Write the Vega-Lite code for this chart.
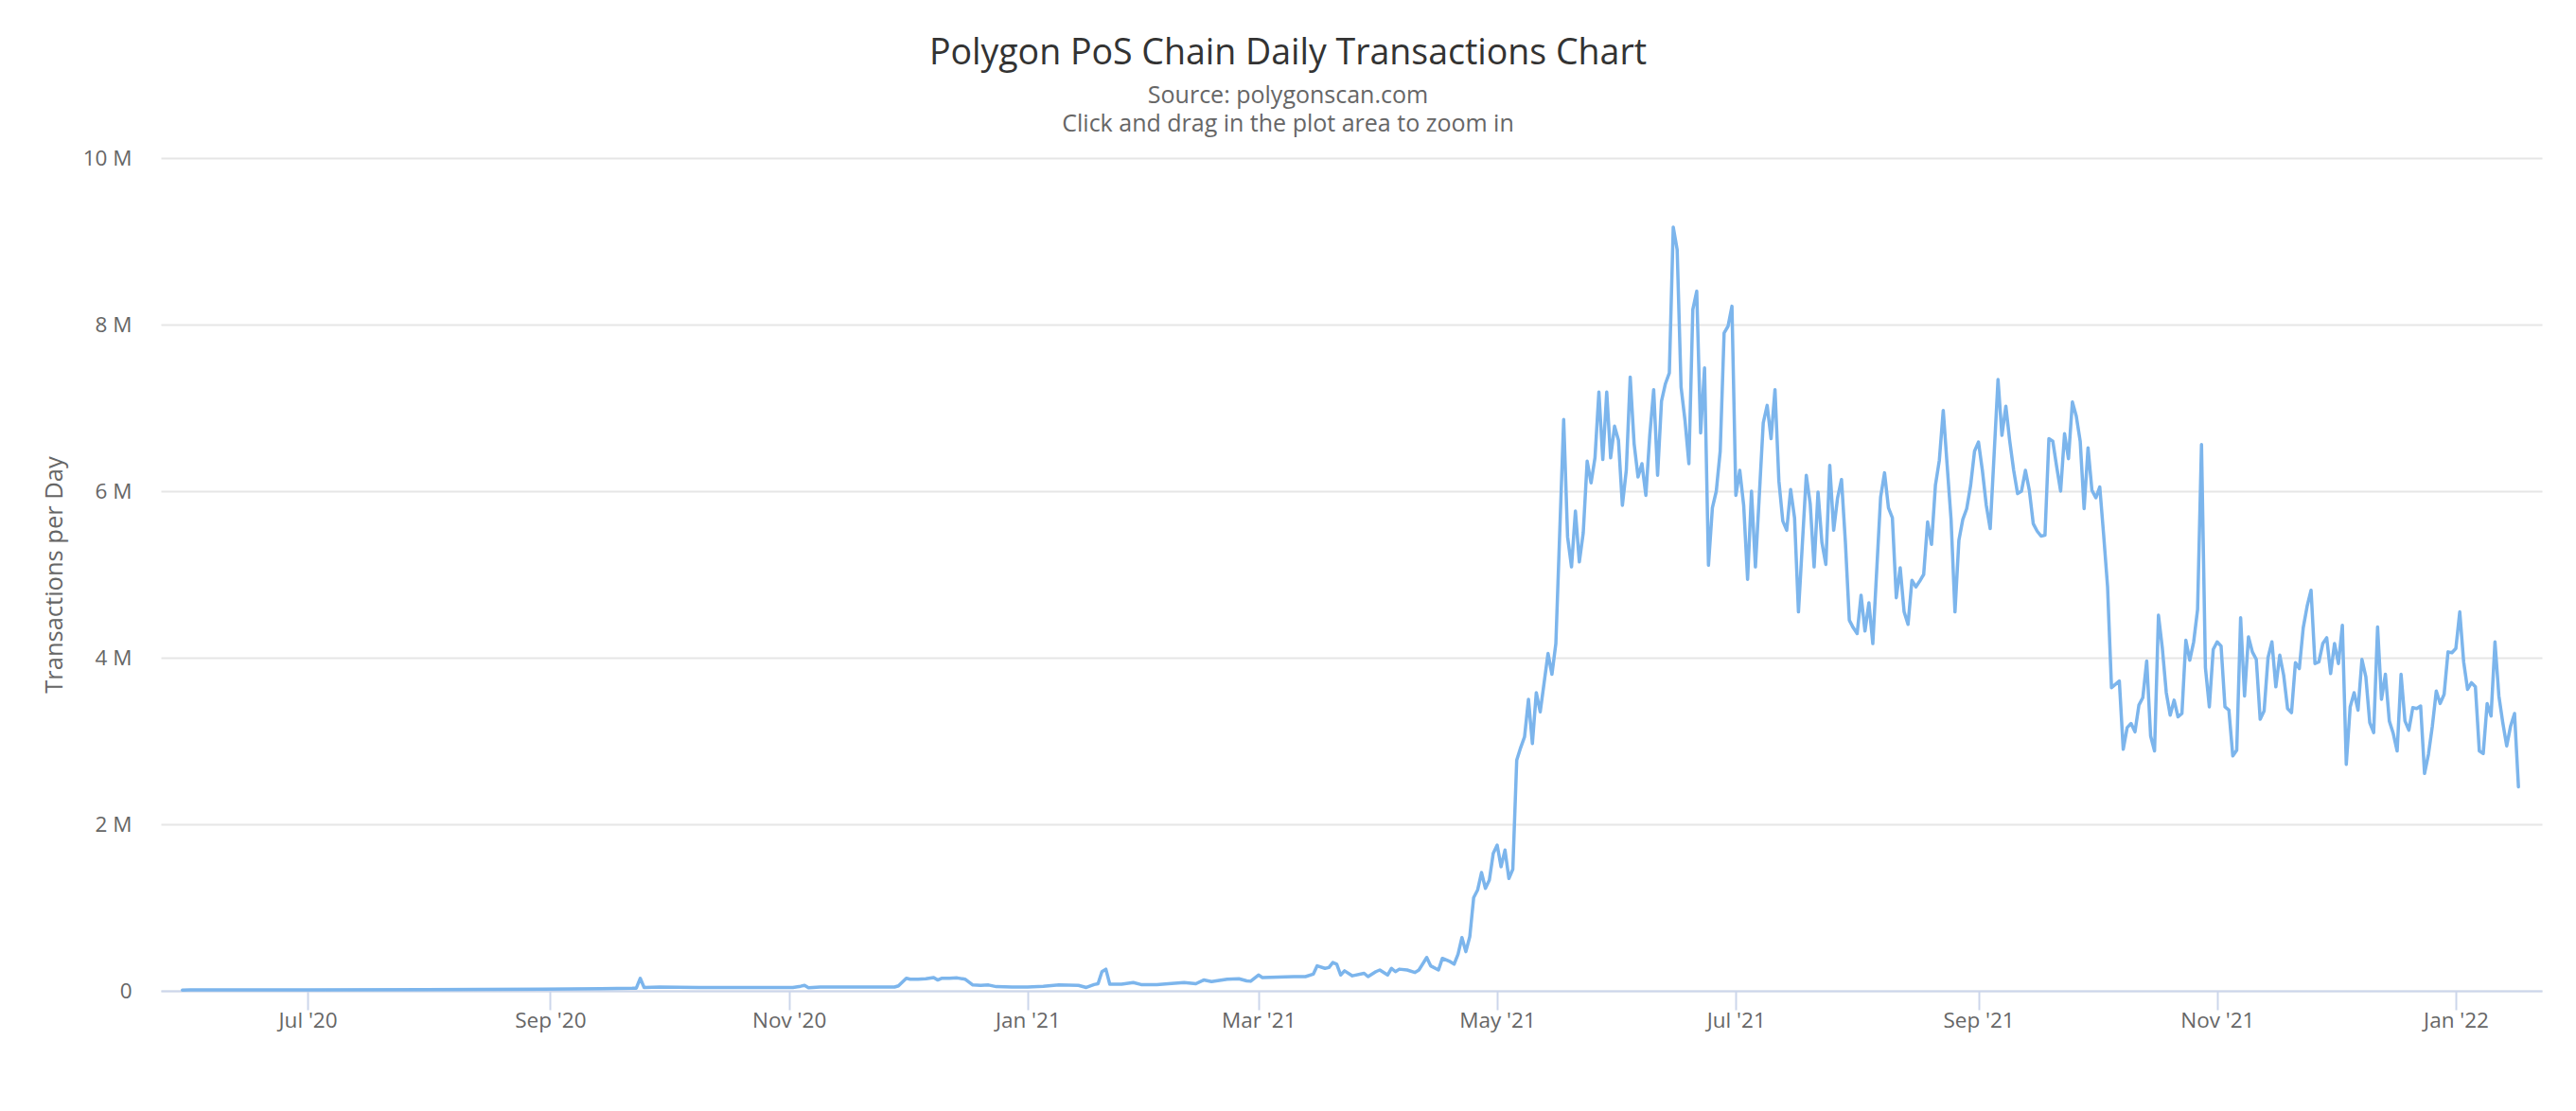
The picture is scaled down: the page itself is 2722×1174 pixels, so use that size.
{
  "$schema": "https://vega.github.io/schema/vega-lite/v6.json",
  "autosize": "none",
  "width": 2516,
  "height": 880,
  "padding": {"left": 170, "top": 167, "right": 36, "bottom": 127},
  "background": "#ffffff",
  "title": {
    "text": "Polygon PoS Chain Daily Transactions Chart",
    "subtitle": ["Source: polygonscan.com", "Click and drag in the plot area to zoom in"],
    "anchor": "middle",
    "dx": -67,
    "offset": 12,
    "font": "Open Sans",
    "fontSize": 37.5,
    "fontWeight": "normal",
    "color": "#333333",
    "subtitleFont": "Open Sans",
    "subtitleFontSize": 25,
    "subtitleColor": "#666666",
    "subtitlePadding": 14,
    "subtitleLineHeight": 30
  },
  "data": {
    "values": [
      {"date": "2020-05-30", "tx": 8000},
      {"date": "2020-06-01", "tx": 10000},
      {"date": "2020-06-11", "tx": 10000},
      {"date": "2020-07-01", "tx": 12000},
      {"date": "2020-07-31", "tx": 15000},
      {"date": "2020-08-15", "tx": 18000},
      {"date": "2020-08-30", "tx": 20000},
      {"date": "2020-09-14", "tx": 25000},
      {"date": "2020-09-22", "tx": 30000},
      {"date": "2020-09-23", "tx": 32000},
      {"date": "2020-09-24", "tx": 150000},
      {"date": "2020-09-25", "tx": 40000},
      {"date": "2020-09-29", "tx": 45000},
      {"date": "2020-10-09", "tx": 40000},
      {"date": "2020-10-19", "tx": 40000},
      {"date": "2020-11-02", "tx": 40000},
      {"date": "2020-11-04", "tx": 55000},
      {"date": "2020-11-05", "tx": 65000},
      {"date": "2020-11-06", "tx": 38000},
      {"date": "2020-11-09", "tx": 45000},
      {"date": "2020-11-18", "tx": 45000},
      {"date": "2020-11-28", "tx": 45000},
      {"date": "2020-11-29", "tx": 60000},
      {"date": "2020-12-01", "tx": 150000},
      {"date": "2020-12-02", "tx": 140000},
      {"date": "2020-12-04", "tx": 140000},
      {"date": "2020-12-06", "tx": 145000},
      {"date": "2020-12-08", "tx": 160000},
      {"date": "2020-12-09", "tx": 130000},
      {"date": "2020-12-10", "tx": 150000},
      {"date": "2020-12-12", "tx": 150000},
      {"date": "2020-12-14", "tx": 155000},
      {"date": "2020-12-16", "tx": 140000},
      {"date": "2020-12-18", "tx": 70000},
      {"date": "2020-12-20", "tx": 65000},
      {"date": "2020-12-22", "tx": 70000},
      {"date": "2020-12-24", "tx": 50000},
      {"date": "2020-12-28", "tx": 45000},
      {"date": "2021-01-01", "tx": 45000},
      {"date": "2021-01-05", "tx": 55000},
      {"date": "2021-01-09", "tx": 70000},
      {"date": "2021-01-14", "tx": 65000},
      {"date": "2021-01-16", "tx": 40000},
      {"date": "2021-01-18", "tx": 75000},
      {"date": "2021-01-19", "tx": 85000},
      {"date": "2021-01-20", "tx": 230000},
      {"date": "2021-01-21", "tx": 260000},
      {"date": "2021-01-22", "tx": 80000},
      {"date": "2021-01-25", "tx": 80000},
      {"date": "2021-01-28", "tx": 100000},
      {"date": "2021-01-30", "tx": 75000},
      {"date": "2021-02-03", "tx": 75000},
      {"date": "2021-02-06", "tx": 85000},
      {"date": "2021-02-10", "tx": 100000},
      {"date": "2021-02-13", "tx": 85000},
      {"date": "2021-02-15", "tx": 130000},
      {"date": "2021-02-17", "tx": 110000},
      {"date": "2021-02-21", "tx": 140000},
      {"date": "2021-02-24", "tx": 145000},
      {"date": "2021-02-26", "tx": 120000},
      {"date": "2021-02-27", "tx": 115000},
      {"date": "2021-03-01", "tx": 190000},
      {"date": "2021-03-02", "tx": 160000},
      {"date": "2021-03-06", "tx": 165000},
      {"date": "2021-03-10", "tx": 170000},
      {"date": "2021-03-13", "tx": 170000},
      {"date": "2021-03-15", "tx": 200000},
      {"date": "2021-03-16", "tx": 300000},
      {"date": "2021-03-18", "tx": 270000},
      {"date": "2021-03-19", "tx": 280000},
      {"date": "2021-03-20", "tx": 340000},
      {"date": "2021-03-21", "tx": 320000},
      {"date": "2021-03-22", "tx": 190000},
      {"date": "2021-03-23", "tx": 240000},
      {"date": "2021-03-25", "tx": 180000},
      {"date": "2021-03-28", "tx": 210000},
      {"date": "2021-03-29", "tx": 170000},
      {"date": "2021-03-31", "tx": 230000},
      {"date": "2021-04-01", "tx": 250000},
      {"date": "2021-04-03", "tx": 190000},
      {"date": "2021-04-04", "tx": 270000},
      {"date": "2021-04-05", "tx": 230000},
      {"date": "2021-04-06", "tx": 260000},
      {"date": "2021-04-08", "tx": 250000},
      {"date": "2021-04-10", "tx": 220000},
      {"date": "2021-04-11", "tx": 250000},
      {"date": "2021-04-13", "tx": 400000},
      {"date": "2021-04-14", "tx": 300000},
      {"date": "2021-04-16", "tx": 250000},
      {"date": "2021-04-17", "tx": 390000},
      {"date": "2021-04-19", "tx": 350000},
      {"date": "2021-04-20", "tx": 320000},
      {"date": "2021-04-21", "tx": 440000},
      {"date": "2021-04-22", "tx": 640000},
      {"date": "2021-04-23", "tx": 470000},
      {"date": "2021-04-24", "tx": 650000},
      {"date": "2021-04-25", "tx": 1120000},
      {"date": "2021-04-26", "tx": 1210000},
      {"date": "2021-04-27", "tx": 1420000},
      {"date": "2021-04-28", "tx": 1230000},
      {"date": "2021-04-29", "tx": 1330000},
      {"date": "2021-04-30", "tx": 1650000},
      {"date": "2021-05-01", "tx": 1750000},
      {"date": "2021-05-02", "tx": 1490000},
      {"date": "2021-05-03", "tx": 1690000},
      {"date": "2021-05-04", "tx": 1350000},
      {"date": "2021-05-05", "tx": 1460000},
      {"date": "2021-05-06", "tx": 2770000},
      {"date": "2021-05-07", "tx": 2920000},
      {"date": "2021-05-08", "tx": 3050000},
      {"date": "2021-05-09", "tx": 3500000},
      {"date": "2021-05-10", "tx": 2970000},
      {"date": "2021-05-11", "tx": 3580000},
      {"date": "2021-05-12", "tx": 3350000},
      {"date": "2021-05-13", "tx": 3700000},
      {"date": "2021-05-14", "tx": 4050000},
      {"date": "2021-05-15", "tx": 3800000},
      {"date": "2021-05-16", "tx": 4170000},
      {"date": "2021-05-18", "tx": 6860000},
      {"date": "2021-05-19", "tx": 5450000},
      {"date": "2021-05-20", "tx": 5090000},
      {"date": "2021-05-21", "tx": 5760000},
      {"date": "2021-05-22", "tx": 5150000},
      {"date": "2021-05-23", "tx": 5500000},
      {"date": "2021-05-24", "tx": 6360000},
      {"date": "2021-05-25", "tx": 6100000},
      {"date": "2021-05-26", "tx": 6400000},
      {"date": "2021-05-27", "tx": 7190000},
      {"date": "2021-05-28", "tx": 6380000},
      {"date": "2021-05-29", "tx": 7190000},
      {"date": "2021-05-30", "tx": 6400000},
      {"date": "2021-05-31", "tx": 6780000},
      {"date": "2021-06-01", "tx": 6610000},
      {"date": "2021-06-02", "tx": 5830000},
      {"date": "2021-06-03", "tx": 6250000},
      {"date": "2021-06-04", "tx": 7370000},
      {"date": "2021-06-05", "tx": 6570000},
      {"date": "2021-06-06", "tx": 6170000},
      {"date": "2021-06-07", "tx": 6330000},
      {"date": "2021-06-08", "tx": 5950000},
      {"date": "2021-06-09", "tx": 6670000},
      {"date": "2021-06-10", "tx": 7220000},
      {"date": "2021-06-11", "tx": 6190000},
      {"date": "2021-06-12", "tx": 7080000},
      {"date": "2021-06-13", "tx": 7290000},
      {"date": "2021-06-14", "tx": 7420000},
      {"date": "2021-06-15", "tx": 9170000},
      {"date": "2021-06-16", "tx": 8900000},
      {"date": "2021-06-17", "tx": 7250000},
      {"date": "2021-06-18", "tx": 6850000},
      {"date": "2021-06-19", "tx": 6330000},
      {"date": "2021-06-20", "tx": 8180000},
      {"date": "2021-06-21", "tx": 8400000},
      {"date": "2021-06-22", "tx": 6700000},
      {"date": "2021-06-23", "tx": 7480000},
      {"date": "2021-06-24", "tx": 5110000},
      {"date": "2021-06-25", "tx": 5800000},
      {"date": "2021-06-26", "tx": 6000000},
      {"date": "2021-06-27", "tx": 6480000},
      {"date": "2021-06-28", "tx": 7900000},
      {"date": "2021-06-29", "tx": 7980000},
      {"date": "2021-06-30", "tx": 8220000},
      {"date": "2021-07-01", "tx": 5950000},
      {"date": "2021-07-02", "tx": 6250000},
      {"date": "2021-07-03", "tx": 5830000},
      {"date": "2021-07-04", "tx": 4940000},
      {"date": "2021-07-05", "tx": 6000000},
      {"date": "2021-07-06", "tx": 5090000},
      {"date": "2021-07-08", "tx": 6820000},
      {"date": "2021-07-09", "tx": 7030000},
      {"date": "2021-07-10", "tx": 6630000},
      {"date": "2021-07-11", "tx": 7220000},
      {"date": "2021-07-12", "tx": 6120000},
      {"date": "2021-07-13", "tx": 5640000},
      {"date": "2021-07-14", "tx": 5530000},
      {"date": "2021-07-15", "tx": 6020000},
      {"date": "2021-07-16", "tx": 5680000},
      {"date": "2021-07-17", "tx": 4550000},
      {"date": "2021-07-19", "tx": 6190000},
      {"date": "2021-07-20", "tx": 5850000},
      {"date": "2021-07-21", "tx": 5090000},
      {"date": "2021-07-22", "tx": 5990000},
      {"date": "2021-07-23", "tx": 5380000},
      {"date": "2021-07-24", "tx": 5120000},
      {"date": "2021-07-25", "tx": 6310000},
      {"date": "2021-07-26", "tx": 5530000},
      {"date": "2021-07-27", "tx": 5920000},
      {"date": "2021-07-28", "tx": 6140000},
      {"date": "2021-07-29", "tx": 5380000},
      {"date": "2021-07-30", "tx": 4450000},
      {"date": "2021-07-31", "tx": 4360000},
      {"date": "2021-08-01", "tx": 4290000},
      {"date": "2021-08-02", "tx": 4750000},
      {"date": "2021-08-03", "tx": 4320000},
      {"date": "2021-08-04", "tx": 4660000},
      {"date": "2021-08-05", "tx": 4170000},
      {"date": "2021-08-07", "tx": 5930000},
      {"date": "2021-08-08", "tx": 6220000},
      {"date": "2021-08-09", "tx": 5800000},
      {"date": "2021-08-10", "tx": 5680000},
      {"date": "2021-08-11", "tx": 4720000},
      {"date": "2021-08-12", "tx": 5080000},
      {"date": "2021-08-13", "tx": 4550000},
      {"date": "2021-08-14", "tx": 4400000},
      {"date": "2021-08-15", "tx": 4930000},
      {"date": "2021-08-16", "tx": 4850000},
      {"date": "2021-08-17", "tx": 4920000},
      {"date": "2021-08-18", "tx": 5000000},
      {"date": "2021-08-19", "tx": 5630000},
      {"date": "2021-08-20", "tx": 5360000},
      {"date": "2021-08-21", "tx": 6070000},
      {"date": "2021-08-22", "tx": 6370000},
      {"date": "2021-08-23", "tx": 6970000},
      {"date": "2021-08-24", "tx": 6310000},
      {"date": "2021-08-25", "tx": 5660000},
      {"date": "2021-08-26", "tx": 4550000},
      {"date": "2021-08-27", "tx": 5410000},
      {"date": "2021-08-28", "tx": 5660000},
      {"date": "2021-08-29", "tx": 5790000},
      {"date": "2021-08-30", "tx": 6070000},
      {"date": "2021-08-31", "tx": 6480000},
      {"date": "2021-09-01", "tx": 6590000},
      {"date": "2021-09-02", "tx": 6250000},
      {"date": "2021-09-03", "tx": 5830000},
      {"date": "2021-09-04", "tx": 5550000},
      {"date": "2021-09-05", "tx": 6440000},
      {"date": "2021-09-06", "tx": 7340000},
      {"date": "2021-09-07", "tx": 6670000},
      {"date": "2021-09-08", "tx": 7020000},
      {"date": "2021-09-09", "tx": 6600000},
      {"date": "2021-09-10", "tx": 6250000},
      {"date": "2021-09-11", "tx": 5970000},
      {"date": "2021-09-12", "tx": 6000000},
      {"date": "2021-09-13", "tx": 6250000},
      {"date": "2021-09-14", "tx": 6010000},
      {"date": "2021-09-15", "tx": 5610000},
      {"date": "2021-09-16", "tx": 5520000},
      {"date": "2021-09-17", "tx": 5460000},
      {"date": "2021-09-18", "tx": 5470000},
      {"date": "2021-09-19", "tx": 6630000},
      {"date": "2021-09-20", "tx": 6600000},
      {"date": "2021-09-21", "tx": 6290000},
      {"date": "2021-09-22", "tx": 6000000},
      {"date": "2021-09-23", "tx": 6690000},
      {"date": "2021-09-24", "tx": 6390000},
      {"date": "2021-09-25", "tx": 7070000},
      {"date": "2021-09-26", "tx": 6900000},
      {"date": "2021-09-27", "tx": 6600000},
      {"date": "2021-09-28", "tx": 5790000},
      {"date": "2021-09-29", "tx": 6520000},
      {"date": "2021-09-30", "tx": 6010000},
      {"date": "2021-10-01", "tx": 5920000},
      {"date": "2021-10-02", "tx": 6050000},
      {"date": "2021-10-03", "tx": 5470000},
      {"date": "2021-10-04", "tx": 4850000},
      {"date": "2021-10-05", "tx": 3640000},
      {"date": "2021-10-06", "tx": 3680000},
      {"date": "2021-10-07", "tx": 3720000},
      {"date": "2021-10-08", "tx": 2900000},
      {"date": "2021-10-09", "tx": 3160000},
      {"date": "2021-10-10", "tx": 3210000},
      {"date": "2021-10-11", "tx": 3110000},
      {"date": "2021-10-12", "tx": 3430000},
      {"date": "2021-10-13", "tx": 3520000},
      {"date": "2021-10-14", "tx": 3960000},
      {"date": "2021-10-15", "tx": 3060000},
      {"date": "2021-10-16", "tx": 2880000},
      {"date": "2021-10-17", "tx": 4510000},
      {"date": "2021-10-18", "tx": 4110000},
      {"date": "2021-10-19", "tx": 3580000},
      {"date": "2021-10-20", "tx": 3310000},
      {"date": "2021-10-21", "tx": 3490000},
      {"date": "2021-10-22", "tx": 3290000},
      {"date": "2021-10-23", "tx": 3330000},
      {"date": "2021-10-24", "tx": 4210000},
      {"date": "2021-10-25", "tx": 3970000},
      {"date": "2021-10-26", "tx": 4190000},
      {"date": "2021-10-27", "tx": 4580000},
      {"date": "2021-10-28", "tx": 6560000},
      {"date": "2021-10-29", "tx": 3880000},
      {"date": "2021-10-30", "tx": 3410000},
      {"date": "2021-10-31", "tx": 4100000},
      {"date": "2021-11-01", "tx": 4190000},
      {"date": "2021-11-02", "tx": 4140000},
      {"date": "2021-11-03", "tx": 3410000},
      {"date": "2021-11-04", "tx": 3370000},
      {"date": "2021-11-05", "tx": 2820000},
      {"date": "2021-11-06", "tx": 2890000},
      {"date": "2021-11-07", "tx": 4480000},
      {"date": "2021-11-08", "tx": 3540000},
      {"date": "2021-11-09", "tx": 4250000},
      {"date": "2021-11-10", "tx": 4070000},
      {"date": "2021-11-11", "tx": 3980000},
      {"date": "2021-11-12", "tx": 3260000},
      {"date": "2021-11-13", "tx": 3360000},
      {"date": "2021-11-14", "tx": 4000000},
      {"date": "2021-11-15", "tx": 4190000},
      {"date": "2021-11-16", "tx": 3650000},
      {"date": "2021-11-17", "tx": 4030000},
      {"date": "2021-11-18", "tx": 3790000},
      {"date": "2021-11-19", "tx": 3390000},
      {"date": "2021-11-20", "tx": 3340000},
      {"date": "2021-11-21", "tx": 3940000},
      {"date": "2021-11-22", "tx": 3870000},
      {"date": "2021-11-23", "tx": 4360000},
      {"date": "2021-11-24", "tx": 4620000},
      {"date": "2021-11-25", "tx": 4810000},
      {"date": "2021-11-26", "tx": 3930000},
      {"date": "2021-11-27", "tx": 3950000},
      {"date": "2021-11-28", "tx": 4170000},
      {"date": "2021-11-29", "tx": 4240000},
      {"date": "2021-11-30", "tx": 3810000},
      {"date": "2021-12-01", "tx": 4170000},
      {"date": "2021-12-02", "tx": 3930000},
      {"date": "2021-12-03", "tx": 4390000},
      {"date": "2021-12-04", "tx": 2720000},
      {"date": "2021-12-05", "tx": 3410000},
      {"date": "2021-12-06", "tx": 3580000},
      {"date": "2021-12-07", "tx": 3370000},
      {"date": "2021-12-08", "tx": 3980000},
      {"date": "2021-12-09", "tx": 3770000},
      {"date": "2021-12-10", "tx": 3220000},
      {"date": "2021-12-11", "tx": 3100000},
      {"date": "2021-12-12", "tx": 4370000},
      {"date": "2021-12-13", "tx": 3500000},
      {"date": "2021-12-14", "tx": 3800000},
      {"date": "2021-12-15", "tx": 3240000},
      {"date": "2021-12-16", "tx": 3090000},
      {"date": "2021-12-17", "tx": 2880000},
      {"date": "2021-12-18", "tx": 3800000},
      {"date": "2021-12-19", "tx": 3240000},
      {"date": "2021-12-20", "tx": 3130000},
      {"date": "2021-12-21", "tx": 3400000},
      {"date": "2021-12-22", "tx": 3390000},
      {"date": "2021-12-23", "tx": 3420000},
      {"date": "2021-12-24", "tx": 2610000},
      {"date": "2021-12-25", "tx": 2840000},
      {"date": "2021-12-26", "tx": 3180000},
      {"date": "2021-12-27", "tx": 3600000},
      {"date": "2021-12-28", "tx": 3450000},
      {"date": "2021-12-29", "tx": 3560000},
      {"date": "2021-12-30", "tx": 4070000},
      {"date": "2021-12-31", "tx": 4060000},
      {"date": "2022-01-01", "tx": 4110000},
      {"date": "2022-01-02", "tx": 4550000},
      {"date": "2022-01-03", "tx": 3950000},
      {"date": "2022-01-04", "tx": 3620000},
      {"date": "2022-01-05", "tx": 3700000},
      {"date": "2022-01-06", "tx": 3650000},
      {"date": "2022-01-07", "tx": 2880000},
      {"date": "2022-01-08", "tx": 2850000},
      {"date": "2022-01-09", "tx": 3450000},
      {"date": "2022-01-10", "tx": 3300000},
      {"date": "2022-01-11", "tx": 4190000},
      {"date": "2022-01-12", "tx": 3540000},
      {"date": "2022-01-13", "tx": 3220000},
      {"date": "2022-01-14", "tx": 2940000},
      {"date": "2022-01-15", "tx": 3180000},
      {"date": "2022-01-16", "tx": 3330000},
      {"date": "2022-01-17", "tx": 2450000}
    ]
  },
  "mark": {"type": "line", "color": "#7cb5ec", "strokeWidth": 3.5, "strokeJoin": "round", "strokeCap": "round"},
  "encoding": {
    "x": {
      "field": "date",
      "type": "temporal",
      "scale": {
        "type": "utc",
        "domain": [
          {"year": 2020, "month": 5, "date": 24, "hours": 12, "utc": true},
          {"year": 2022, "month": 1, "date": 23, "utc": true}
        ]
      },
      "axis": {
        "title": null,
        "format": "%b '%y",
        "tickCount": {"interval": "month", "step": 2},
        "grid": false,
        "domainColor": "#ccd6eb",
        "domainWidth": 2,
        "ticks": true,
        "tickColor": "#ccd6eb",
        "tickWidth": 2,
        "tickSize": 20,
        "labelPadding": 0,
        "labelFont": "Open Sans",
        "labelFontSize": 22.5,
        "labelColor": "#666666"
      }
    },
    "y": {
      "field": "tx",
      "type": "quantitative",
      "scale": {"domain": [0, 10000000], "nice": false},
      "axis": {
        "title": "Transactions per Day",
        "values": [0, 2000000, 4000000, 6000000, 8000000, 10000000],
        "labelExpr": "datum.value == 0 ? '0' : format(datum.value / 1000000, 'd') + ' M'",
        "domain": false,
        "ticks": false,
        "grid": true,
        "gridColor": "#e6e6e6",
        "gridWidth": 2,
        "labelPadding": 31,
        "labelFont": "Open Sans",
        "labelFontSize": 22.5,
        "labelColor": "#666666",
        "titleFont": "Open Sans",
        "titleFontSize": 25.5,
        "titleFontWeight": "normal",
        "titleColor": "#666666",
        "titlePadding": 17
      }
    }
  },
  "config": {
    "view": {"stroke": null}
  }
}
